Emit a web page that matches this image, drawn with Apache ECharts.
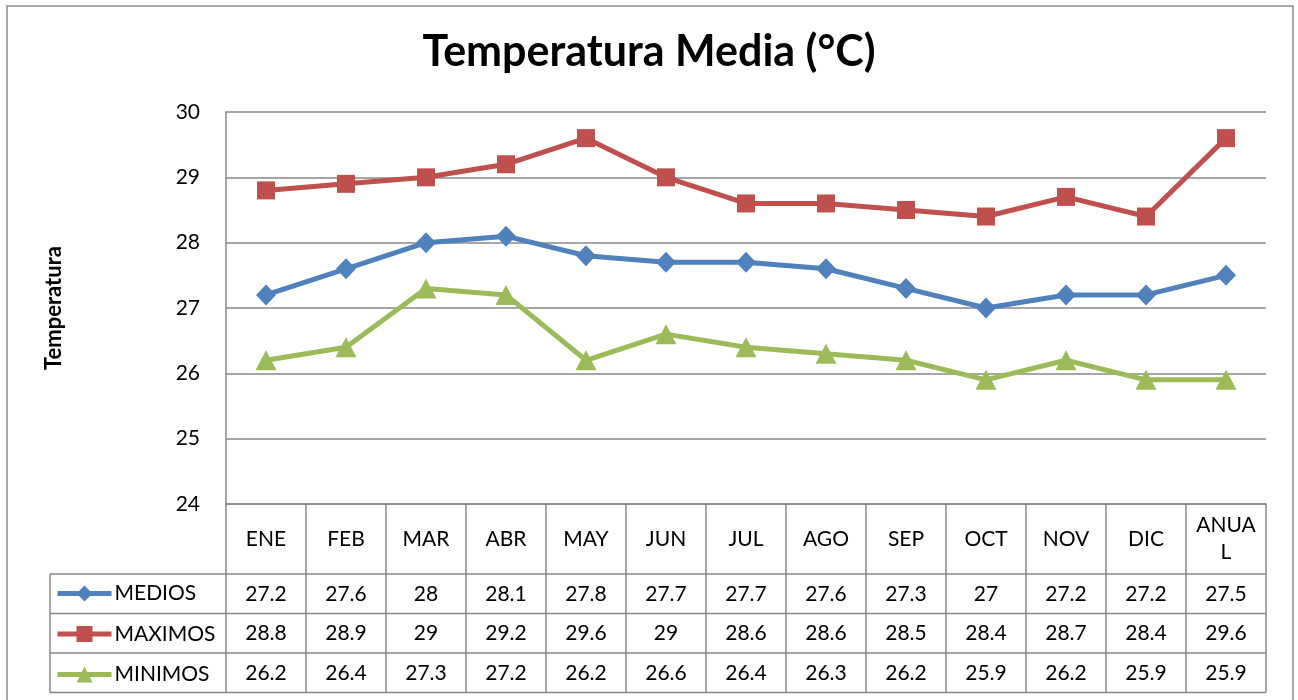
<!DOCTYPE html>
<html>
<head>
<meta charset="utf-8">
<script src="https://cdn.jsdelivr.net/npm/echarts@6/dist/echarts.min.js"></script>
<style>
html,body{margin:0;padding:0;background:#fff;}
#chart{width:1298px;height:700px;}
</style>
</head>
<body>
<div id="chart"></div>
<script>
const categories = ['ENE','FEB','MAR','ABR','MAY','JUN','JUL','AGO','SEP','OCT','NOV','DIC','ANUAL'];
const medios  = [27.2,27.6,28,28.1,27.8,27.7,27.7,27.6,27.3,27,27.2,27.2,27.5];
const maximos = [28.8,28.9,29,29.2,29.6,29,28.6,28.6,28.5,28.4,28.7,28.4,29.6];
const minimos = [26.2,26.4,27.3,27.2,26.2,26.6,26.4,26.3,26.2,25.9,26.2,25.9,25.9];
const seriesNames = ['MEDIOS','MAXIMOS','MINIMOS'];
const yMin = 24, yMax = 30, yStep = 1;

const FONT = 'Lato';
const GRID = '#888888';
const colors = ['#4F81BD','#C0504D','#9BBB59'];
const symbols = ['diamond','rect','triangle'];
const symbolSizes = [[20,21],18,[21,20]];
const seriesData = [medios, maximos, minimos];

const chart = echarts.init(document.getElementById('chart'), null, {renderer:'canvas'});

const option = {
  animation:false,
  backgroundColor:'#fff',
  textStyle:{fontFamily:FONT},
  title:{
    text:'Temperatura Media (°C)',
    left:'center', top:26,
    textStyle:{fontFamily:FONT,fontSize:43,fontWeight:'bold',color:'#000'}
  },
  legend:{
    orient:'vertical', left:50, top:578, itemGap:19.5,
    itemWidth:54, itemHeight:20,
    lineStyle:{width:5},
    textStyle:{fontFamily:FONT,fontSize:21,color:'#000',padding:[0,0,0,-2]},
    data:seriesNames
  },
  grid:{left:226,right:32,top:112,bottom:196,containLabel:false},
  xAxis:{
    type:'category', data:categories, boundaryGap:true,
    axisLine:{show:true,lineStyle:{color:GRID,width:1.5}},
    axisTick:{show:false}, axisLabel:{show:false}, splitLine:{show:false}
  },
  yAxis:{
    type:'value', min:yMin, max:yMax, interval:yStep,
    name:'Temperatura', nameLocation:'middle', nameRotate:90, nameGap:161,
    nameTextStyle:{fontFamily:FONT,fontSize:22,fontWeight:'bold',color:'#000'},
    axisLine:{show:true,lineStyle:{color:GRID,width:1.5}},
    axisTick:{show:false},
    axisLabel:{fontFamily:FONT,fontSize:21,color:'#000',margin:26},
    splitLine:{show:true,lineStyle:{color:GRID,width:1.5}}
  },
  series: seriesNames.map((n,i)=>({
    name:n, type:'line', data:seriesData[i],
    symbol:symbols[i], symbolSize:symbolSizes[i], showSymbol:true,
    lineStyle:{color:colors[i],width:5},
    itemStyle:{color:colors[i]},
    z: 3 - i
  }))
};
chart.setOption(option);

// data table built from the arrays, positioned with the axis scale
function buildTable(){
  const c0 = chart.convertToPixel({xAxisIndex:0}, 0);
  const c1 = chart.convertToPixel({xAxisIndex:0}, 1);
  const catW = c1 - c0;
  const left = c0 - catW/2;
  const right = left + catW*categories.length;
  const axisY = chart.convertToPixel({yAxisIndex:0}, yMin);
  const headerBottom = 574;
  const rowH = 39.5;
  const legendLeft = 50;
  const tableBottom = headerBottom + rowH*seriesNames.length;
  const els = [];
  const ls = {stroke:GRID,lineWidth:1.5};
  // outer chart border
  els.push({type:'rect',shape:{x:7,y:6,width:1286,height:720},style:{fill:null,stroke:'#8a8a8a',lineWidth:1.5},silent:true});
  // vertical lines
  for(let i=0;i<=categories.length;i++){
    const x = left + i*catW;
    els.push({type:'line',shape:{x1:x,y1:axisY,x2:x,y2:tableBottom},style:ls,silent:true});
  }
  els.push({type:'line',shape:{x1:legendLeft,y1:headerBottom,x2:legendLeft,y2:tableBottom},style:ls,silent:true});
  // horizontal lines
  for(let r=0;r<=seriesNames.length;r++){
    const y = headerBottom + r*rowH;
    els.push({type:'line',shape:{x1:legendLeft,y1:y,x2:right,y2:y},style:ls,silent:true});
  }
  // category header labels
  categories.forEach((c,i)=>{
    const x = chart.convertToPixel({xAxisIndex:0}, i);
    const txt = c.length > 4 ? c.slice(0,4)+'\n'+c.slice(4) : c;
    els.push({type:'text',x:x,y:(axisY+headerBottom)/2,silent:true,
      style:{text:txt,fontFamily:FONT,fontSize:21,fill:'#000',align:'center',verticalAlign:'middle',lineHeight:27}});
  });
  // values
  seriesData.forEach((arr,r)=>{
    const y = headerBottom + r*rowH + rowH/2;
    arr.forEach((v,i)=>{
      const x = chart.convertToPixel({xAxisIndex:0}, i);
      els.push({type:'text',x:x,y:y,silent:true,
        style:{text:String(v),fontFamily:FONT,fontSize:21,fill:'#000',align:'center',verticalAlign:'middle'}});
    });
  });
  chart.setOption({graphic:els});
}
buildTable();
</script>
</body>
</html>
